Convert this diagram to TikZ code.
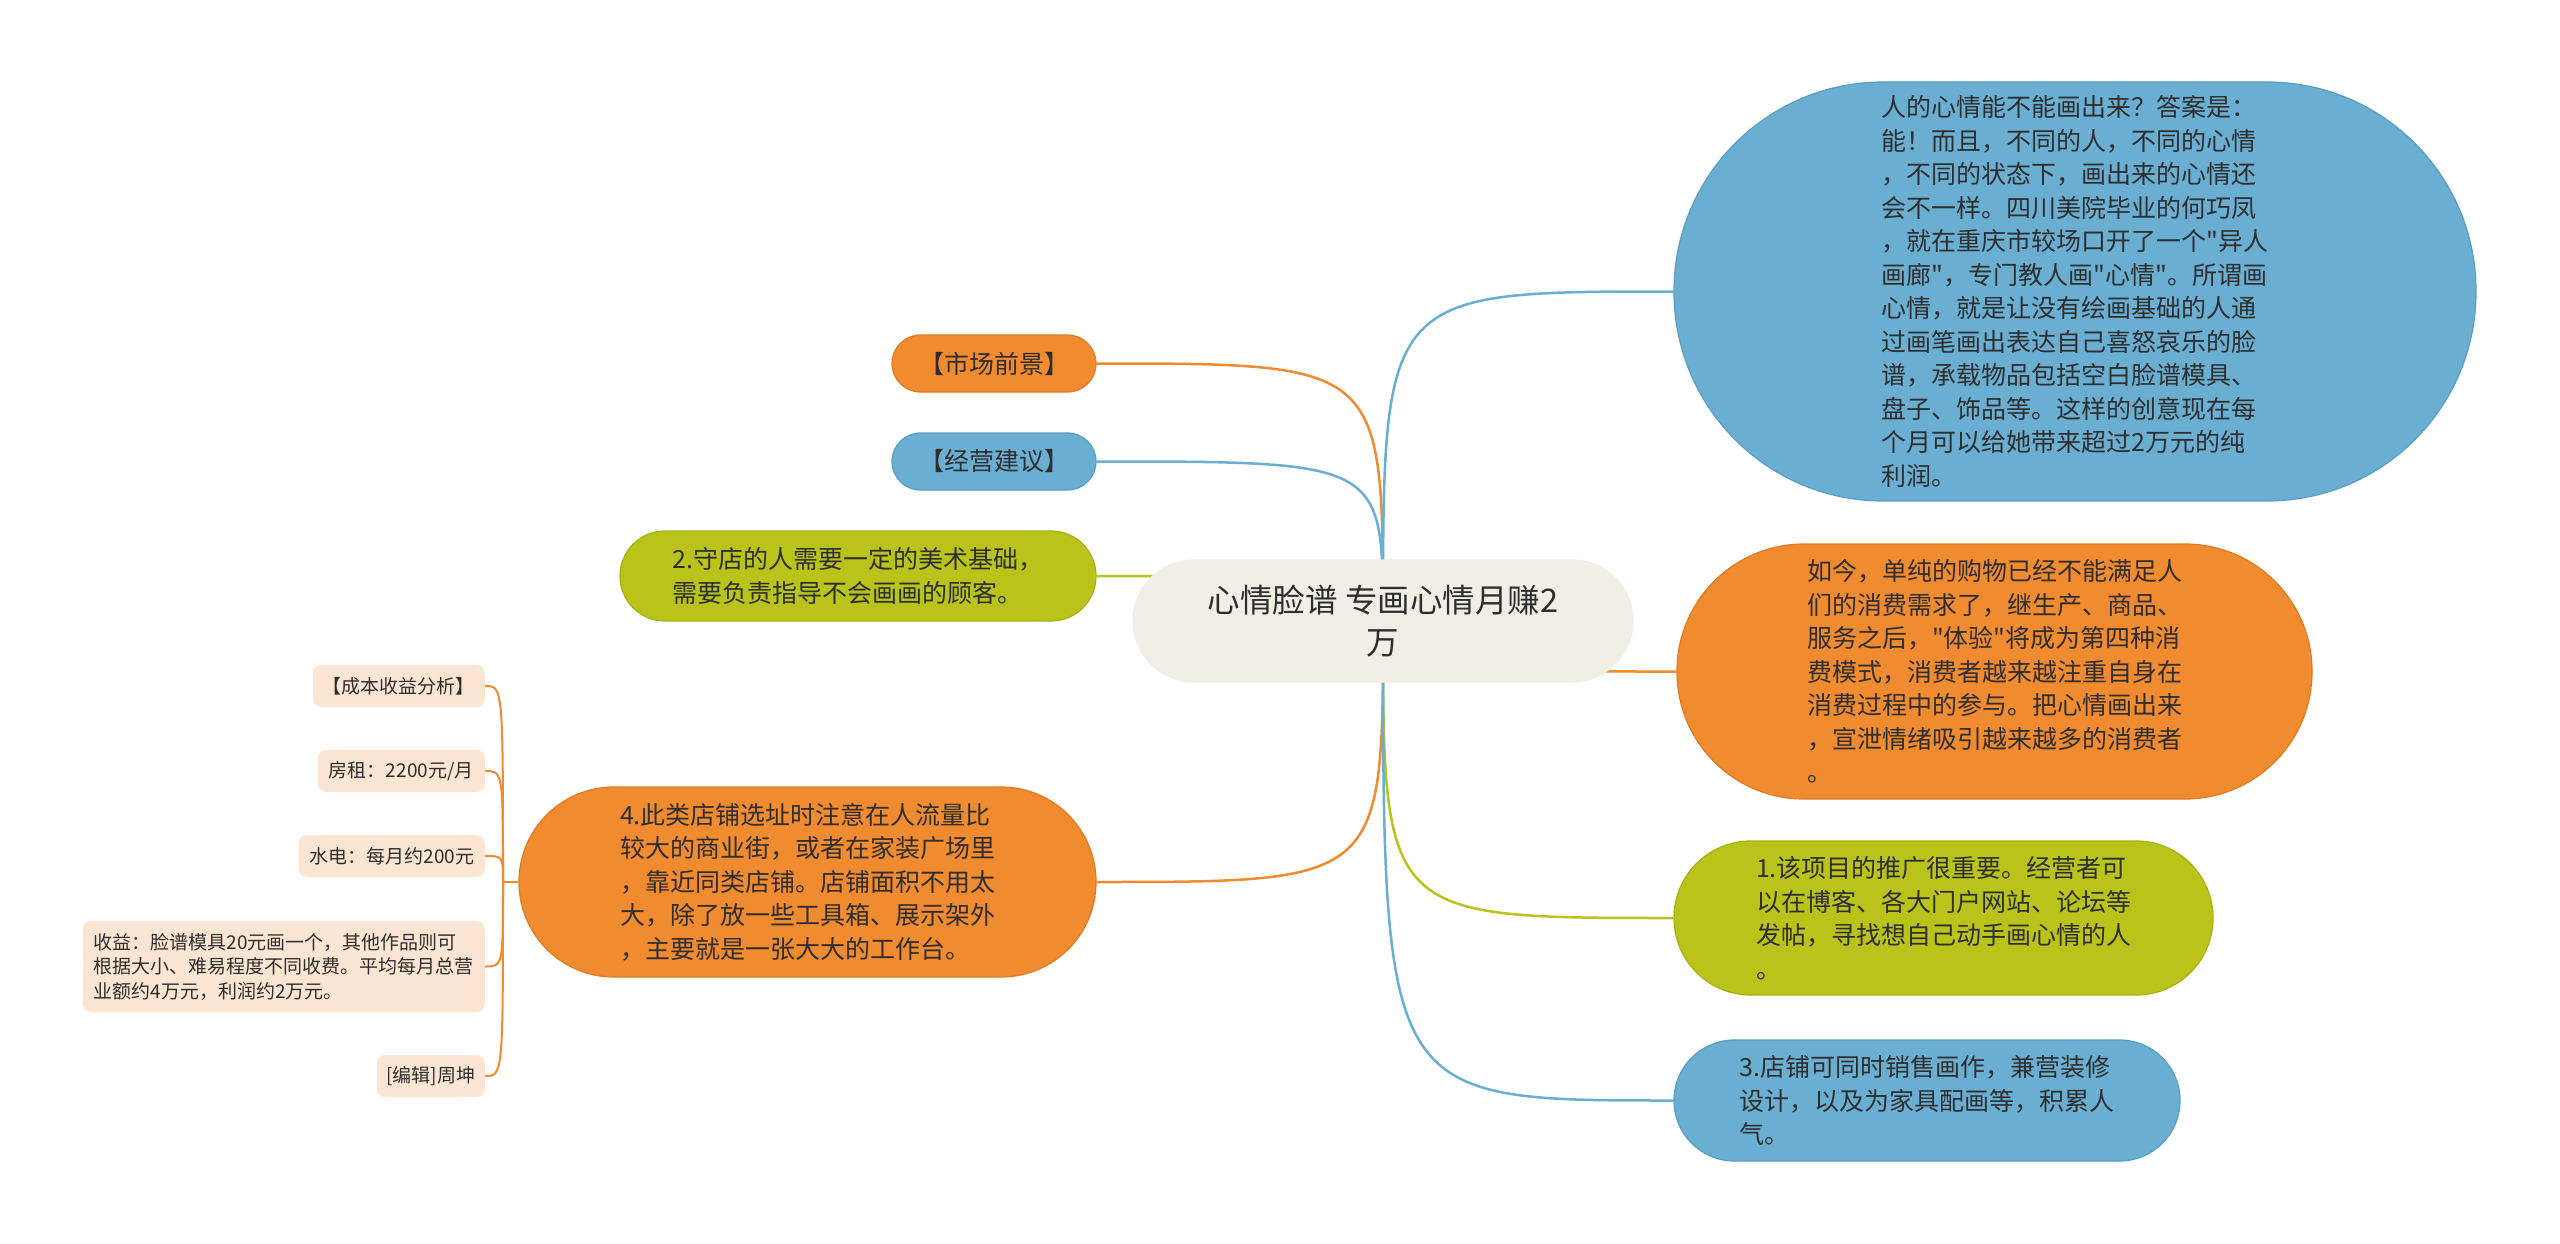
\documentclass[tikz,border=0pt]{standalone}
\usepackage{fontspec}
\newfontfamily\cjk{Noto Sans CJK SC}
\usetikzlibrary{backgrounds}
\definecolor{orC}{HTML}{F18B2F}
\definecolor{orD}{HTML}{E07B22}
\definecolor{blC}{HTML}{6AAFD2}
\definecolor{blD}{HTML}{5A9FC3}
\definecolor{grC}{HTML}{BAC31A}
\definecolor{grD}{HTML}{A8B112}
\definecolor{ceC}{HTML}{EFEFE6}
\definecolor{peC}{HTML}{FCE6D3}
\definecolor{txC}{HTML}{2E2E2E}
\begin{document}
\begin{tikzpicture}[x=1pt,y=-1pt,
  pill/.style n args={5}{fill=#1, draw=#2, line width=1.2pt, minimum width=#3pt, minimum height=#4pt, rounded corners=#5pt, inner sep=0pt, align=left, text=txC, font=\cjk\fontsize{25}{33.5}\selectfont},
  subbox/.style={fill=peC, rounded corners=8pt, inner sep=0pt, minimum height=42pt, anchor=east, text=txC, font=\cjk\fontsize{19}{24.5}\selectfont},
  conn/.style={line width=2.5pt, draw=#1},
  sconn/.style={line width=2pt, draw=orC}]
\useasboundingbox (0,0) rectangle (2560,1244);

% central node
\node[pill={ceC}{ceC}{500}{122}{60.8}, align=center, font=\cjk\fontsize{32.5}{42}\selectfont] (C) at (1383,621) {心情脸谱 专画心情月赚2\\万};

% right side
\node[pill={blC}{blD}{802}{419}{209}] (BB) at (2075,291.5) {人的心情能不能画出来？答案是：\\能！而且，不同的人，不同的心情\\，不同的状态下，画出来的心情还\\会不一样。四川美院毕业的何巧凤\\，就在重庆市较场口开了一个"异人\\画廊"，专门教人画"心情"。所谓画\\心情，就是让没有绘画基础的人通\\过画笔画出表达自己喜怒哀乐的脸\\谱，承载物品包括空白脸谱模具、\\盘子、饰品等。这样的创意现在每\\个月可以给她带来超过2万元的纯\\利润。};
\node[pill={orC}{orD}{635}{255}{127}] (OR) at (1994.5,671.5) {如今，单纯的购物已经不能满足人\\们的消费需求了，继生产、商品、\\服务之后，"体验"将成为第四种消\\费模式，消费者越来越注重自身在\\消费过程中的参与。把心情画出来\\，宣泄情绪吸引越来越多的消费者\\。};
\node[pill={grC}{grD}{539}{154}{76.8}] (GR1) at (1943.5,918) {1.该项目的推广很重要。经营者可\\以在博客、各大门户网站、论坛等\\发帖，寻找想自己动手画心情的人\\。};
\node[pill={blC}{blD}{506}{121}{60.3}] (BL3) at (1927,1100.5) {3.店铺可同时销售画作，兼营装修\\设计，以及为家具配画等，积累人\\气。};

% left side
\node[pill={orC}{orD}{204}{57}{28.4}] (SC) at (994,363.5) {【市场前景】};
\node[pill={blC}{blD}{204}{57}{28.4}] (JY) at (994,461.5) {【经营建议】};
\node[pill={grC}{grD}{476}{90}{44.8}] (GR2) at (858,576) {2.守店的人需要一定的美术基础，\\需要负责指导不会画画的顾客。};
\node[pill={orC}{orD}{577}{190}{94.8}] (OR4) at (807.5,882) {4.此类店铺选址时注意在人流量比\\较大的商业街，或者在家装广场里\\，靠近同类店铺。店铺面积不用太\\大，除了放一些工具箱、展示架外\\，主要就是一张大大的工作台。};

% sub nodes
\node[subbox, minimum width=172pt] (S1) at (485,686) {【成本收益分析】};
\node[subbox, minimum width=167pt] (S2) at (485,771) {房租：2200元/月};
\node[subbox, minimum width=186pt] (S3) at (485,856) {水电：每月约200元};
\node[subbox, minimum width=402pt, minimum height=91pt, align=left] (S4) at (485,966.5) {收益：脸谱模具20元画一个，其他作品则可\\根据大小、难易程度不同收费。平均每月总营\\业额约4万元，利润约2万元。};
\node[subbox, minimum width=108pt] (S5) at (485,1076) {[编辑]周坤};
\coordinate (T) at (503,882);

\begin{scope}[on background layer]
\fill[white] (0,0) rectangle (2560,1244);
\draw[conn=orC] (C.center) .. controls (C.center |- SC.east) .. (SC.east);
\draw[conn=blC] (C.center) .. controls (C.center |- JY.east) .. (JY.east);
\draw[conn=grC] (C.center) .. controls (C.center |- GR2.east) .. (GR2.east);
\draw[conn=orC] (C.center) .. controls (C.center |- OR4.east) .. (OR4.east);
\draw[conn=blC] (C.center) .. controls (C.center |- BB.west) .. (BB.west);
\draw[conn=orC] (C.center) .. controls (C.center |- OR.west) .. (OR.west);
\draw[conn=grC] (C.center) .. controls (C.center |- GR1.west) .. (GR1.west);
\draw[conn=blC] (C.center) .. controls (C.center |- BL3.west) .. (BL3.west);
\draw[sconn] (OR4.west) -- (T);
\foreach \s in {S1,S2,S3,S4,S5}
  \draw[sconn] (T) .. controls (T |- \s.east) .. (\s.east);
\end{scope}
\end{tikzpicture}
\end{document}
